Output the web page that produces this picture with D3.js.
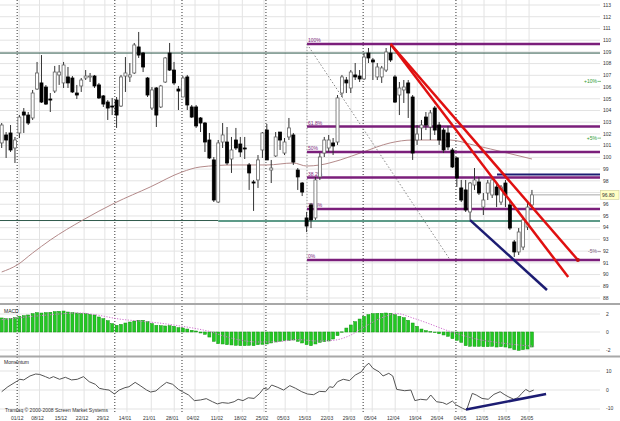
<!DOCTYPE html>
<html><head><meta charset="utf-8">
<script src="https://cdn.jsdelivr.net/npm/d3@7"></script>
<style>body{margin:0;background:#fff}svg{display:block}text{font-family:"Liberation Sans",Arial,sans-serif}</style>
</head><body><svg id="c" width="620" height="421"></svg>
<script>
// ---------- DATA ----------
const open  = [101.23,101.91,102.08,100.80,102.08,103.87,103.61,103.36,105.83,106.35,106.00,104.98,105.66,107.03,106.35,106.86,106.77,105.49,106.09,106.77,106.86,106.94,106.18,105.24,104.72,104.38,104.89,104.38,106.94,106.86,107.20,109.42,108.90,106.77,104.21,105.92,104.30,106.43,108.90,107.45,105.83,105.15,106.86,104.30,104.30,103.36,102.93,101.48,99.78,96.19,101.31,101.31,99.86,101.48,101.14,100.80,99.35,97.90,98.07,100.63,102.33,98.92,100.12,102.16,100.37,101.74,101.91,98.92,97.81,94.83,95.94,94.83,98.33,100.37,100.80,101.23,101.31,105.49,106.60,105.92,107.03,106.94,106.69,108.90,108.31,106.86,106.86,107.45,108.90,106.86,105.32,105.75,106.35,105.15,101.48,102.51,103.44,102.59,104.21,102.76,102.33,102.08,100.63,99.95,97.39,97.22,95.34,97.64,97.90,95.76,96.96,96.79,97.47,96.19,97.81,95.94,92.78,91.93,92.35,94.06,95.94];
const high  = [102.93,102.16,102.76,101.74,103.61,104.21,103.87,105.75,108.14,108.73,106.17,105.49,107.80,107.88,108.14,107.71,106.94,106.18,106.77,107.45,107.20,107.03,106.35,105.32,104.89,105.07,105.15,107.03,108.56,108.05,109.76,110.70,108.99,106.86,106.00,106.00,106.18,108.56,109.76,108.14,106.09,106.94,107.03,104.47,104.47,103.44,103.02,102.08,100.03,101.48,102.93,102.59,101.74,102.51,101.74,101.74,99.52,98.07,100.20,102.16,102.85,99.78,102.16,102.16,101.65,103.36,102.08,99.09,97.90,95.34,96.11,98.33,100.37,101.74,101.91,101.65,105.32,107.03,106.86,107.45,108.05,107.45,108.90,109.33,108.48,108.05,107.80,109.33,109.67,107.03,106.43,106.60,106.60,105.32,102.76,103.19,103.87,104.04,104.38,103.02,102.51,102.68,100.80,100.03,98.07,98.07,97.90,99.09,98.33,96.96,98.07,98.33,97.90,97.64,98.07,96.36,92.95,93.97,94.91,96.11,97.22];
const low   = [100.80,99.95,100.46,99.52,101.65,102.08,102.76,103.19,105.75,104.64,104.47,103.87,105.49,106.18,105.92,105.92,105.49,104.98,105.58,106.60,106.43,105.92,104.98,104.30,103.19,103.61,102.51,104.30,105.58,106.43,107.11,108.48,107.28,105.15,104.04,102.59,104.21,106.35,107.37,106.18,104.04,105.15,104.04,103.36,102.51,102.16,100.46,99.86,96.19,96.11,100.80,99.35,98.67,100.63,100.03,99.86,97.22,95.43,97.39,99.95,99.78,97.81,100.03,100.63,100.20,101.48,99.35,97.22,96.70,93.63,93.97,94.66,98.07,100.03,100.46,100.20,101.06,105.15,105.49,105.49,106.60,106.43,106.60,108.05,106.60,106.60,106.35,107.28,108.14,104.64,103.61,104.64,103.36,99.78,101.06,101.48,102.33,101.48,101.91,101.06,100.37,100.63,99.09,97.47,96.19,95.34,94.66,97.22,96.79,95.08,96.36,96.53,95.76,95.94,95.76,93.80,91.50,91.67,92.09,93.80,95.68];
const close = [102.76,101.48,100.63,101.48,103.44,103.61,102.93,105.49,107.20,104.72,104.55,104.89,107.28,107.28,107.88,106.35,105.58,105.32,106.60,106.94,106.94,106.09,105.07,104.55,104.21,104.30,103.61,106.86,107.20,107.03,109.59,108.73,107.71,105.32,105.75,103.61,106.09,108.48,107.45,106.35,105.66,106.77,104.47,103.44,102.68,102.93,101.31,99.95,96.36,101.23,101.91,99.52,100.63,100.80,100.46,100.72,98.67,97.81,99.78,102.08,99.78,99.09,101.74,101.48,101.31,102.51,99.60,98.33,97.04,94.14,94.66,98.07,100.03,101.48,101.48,100.97,105.07,106.86,106.35,107.28,106.86,106.69,108.56,108.48,108.14,107.71,107.63,108.99,108.31,104.72,105.92,106.00,105.49,100.37,101.99,102.76,102.76,103.79,102.33,101.48,100.63,100.89,99.18,98.24,96.36,95.51,97.81,98.07,96.96,96.36,97.81,98.07,96.79,97.47,96.79,93.97,91.93,93.63,94.66,95.76,96.80];

const maIdx = [0,3.5,7,11,18.4,25.6,33.6,40.8,44.9,52.4,60,66,69,72,76.6,81.8,87.9,93,101.5,106.7,114.4,120];
const maVal = [90.22,90.82,91.84,92.95,94.66,96.11,97.47,98.75,99.18,99.35,99.35,99.52,99.26,99.35,99.78,100.46,101.23,101.48,101.48,101.06,100.37,99.86];

const macdHist = [1.56,1.48,1.52,1.59,1.74,1.81,1.89,2.04,2.15,2.11,2.15,2.19,2.26,2.30,2.33,2.22,2.15,2.11,2.07,2.04,1.96,1.89,1.67,1.48,1.26,0.93,0.74,0.85,1.00,1.11,1.22,1.30,1.30,1.15,0.93,0.74,0.70,0.67,0.70,0.63,0.48,0.44,0.33,0.19,0.11,-0.11,-0.26,-0.56,-1.04,-1.30,-1.33,-1.41,-1.44,-1.48,-1.52,-1.52,-1.48,-1.52,-1.41,-1.37,-1.33,-1.22,-1.11,-1.04,-0.96,-0.93,-0.89,-1.04,-1.22,-1.41,-1.52,-1.33,-1.15,-1.07,-1.00,-0.78,-0.41,0.02,0.44,0.78,1.15,1.44,1.74,1.93,2.04,2.07,2.07,2.11,2.07,1.93,1.74,1.59,1.30,1.00,0.63,0.33,0.15,0.04,-0.07,-0.19,-0.33,-0.48,-0.74,-0.93,-1.15,-1.52,-1.59,-1.59,-1.59,-1.63,-1.63,-1.59,-1.67,-1.63,-1.67,-1.78,-1.96,-2.04,-1.96,-1.89,-1.67];
const sigIdx = [0,8.6,17.6,22,26.6,31,35.6,40,44.5,47.2,50,53.5,58,62.5,67,71.5,75,78.7,82.3,85.9,89.5,93,96.7,100.3,103.8,107.4,112,116.4,120.5];
const sigVal = [1.37,1.81,2.11,1.85,1.44,1.22,1.00,0.70,0.33,0.04,-0.41,-0.85,-1.11,-1.07,-0.85,-1.00,-0.93,-0.41,0.63,1.56,2.04,1.56,0.93,0.26,-0.30,-0.78,-1.15,-1.41,-1.59];

const momIdx = [0,1.4,3.5,4.1,5,6.4,7.7,8.6,9.9,10.8,11.7,13.1,14.4,15.8,17.1,18.5,19.8,21.2,22.1,23.2,24.3,25.5,26.6,27.9,28.8,30.2,31.5,32.8,33.7,34.9,36,37.3,38.7,40,40.9,42.3,43.6,45,46.3,47.7,48.8,49.9,51.3,52.6,53.5,54.6,55.8,57.1,58.4,59.3,60.3,61.1,62.5,63.8,65.2,66.5,67.9,69.2,70.6,71.9,73.3,74.2,75,76,77.3,78.7,80,81.4,82.3,83.1,84,85.4,86.3,87.6,88.5,89.4,91.2,92.6,93.5,94.8,96.2,97.1,98.4,99.8,100.7,102,102.9,104.3,105.2,106.5,107.4,108.7,110.1,111.4,112.8,113.7,114.6,115.9,116.8,117.7,118.6,119.5,120.4];
const momVal = [-0.90,1.71,4.72,5.64,5.30,7.38,8.42,8.19,7.03,6.11,7.03,5.64,6.69,5.30,5.64,7.03,4.37,2.98,0.90,0.32,-0.03,-2.11,-0.03,1.24,1.71,4.02,2.05,-0.03,-1.07,-0.49,1.71,4.02,2.98,0.32,-0.90,-2.64,-5.59,-5.24,-4.55,-6.17,-7.33,-6.63,-6.98,-6.17,-4.89,-5.59,-4.08,-4.43,-1.77,0.90,0.32,2.63,1.36,-0.03,2.29,0.90,-0.90,-2.11,-2.46,-0.73,-0.90,1.71,1.36,4.37,5.64,4.95,7.84,9.58,12.59,14.10,11.43,9.58,7.38,8.77,7.38,0.32,-0.38,-0.03,-5.59,-4.89,-5.24,-2.64,-6.17,-6.63,-7.56,-5.82,-7.90,-9.64,-10.57,-1.77,-2.64,-4.43,-4.89,-2.29,-0.90,-2.29,-3.50,-4.89,-4.08,-1.77,0.32,-0.90,-0.03];

const dateLabels = ["01/12","08/12","15/12","22/12","29/12","14/01","21/01","28/01","04/02","11/02","18/02","25/02","05/03","15/03","22/03","29/03","05/04","12/04","19/04","26/04","04/05","12/05","19/05","26/05"];
const dateIdx = [3.5,8.1,13.4,18.2,22.9,27.9,33.4,38.6,43.3,48.7,54,58.9,63.7,68.6,73.6,78.6,83.4,88.6,93.6,98.5,103.7,108.7,113.7,118.9];
const monthIdx = [3.5,25.6,40.8,59.8,81.8,102.8];

const priceTicks = d3.range(88, 114);
const fibLevels = [1, 0.618, 0.5, 0.382, 0.236, 0];
const fibLabels = ["100%", "61.8%", "50%", "38.2%", "23.6%", "0%"];
const fibHigh = 109.67, fibLow = 91.24, fibStartIdx = 69.1, fibEndIdx = 101.5;
const greenTop = 108.9, tealLevel = 94.61, tealStartIdx = 49;
const navyLevel = 98.54, navyStartIdx = 112.1;
const redStart = [88, 109.67];
const redEndA = [128.2, 89.79];
const redEndB = [130.4, 91.24];
const supportLine = [[106, 94.65], [123.4, 88.68]];
const momSupport = [[105.1, -10.26], [123.2, -2.1]];
const pctLevels = [0.10, 0.05, -0.05];
const pctLabels = ["+10%", "+5%", "-5%"];
const macdTicks = [2, 0, -2];
const momTicks = [10, 0, -10];

// ---------- SCALES ----------
const svg = d3.select("#c");
const R = 600;
const x = d3.scaleLinear().domain([0, 135.4]).range([1.7, R]);
const y = d3.scaleLinear().domain([88, 113]).range([298, 5]);
const ym = d3.scaleLinear().domain([-2, 2]).range([350, 314]);
const yo = d3.scaleLinear().domain([-10, 10]).range([409, 371]);
const N = close.length;
const last = close[N - 1];

// ---------- GRID ----------
const g = svg.append("g");
g.selectAll(".hg").data(priceTicks).join("line")
  .attr("x1", 0).attr("x2", R).attr("y1", d => y(d)).attr("y2", d => y(d))
  .attr("stroke", "#e3e3e3").attr("stroke-width", 1);
g.selectAll(".hm").data(macdTicks).join("line")
  .attr("x1", 0).attr("x2", R).attr("y1", d => ym(d)).attr("y2", d => ym(d))
  .attr("stroke", "#e3e3e3");
g.selectAll(".ho").data(momTicks).join("line")
  .attr("x1", 0).attr("x2", R).attr("y1", d => yo(d)).attr("y2", d => yo(d))
  .attr("stroke", "#e3e3e3");
g.selectAll(".vg").data(dateIdx).join("line")
  .attr("x1", d => x(d) + 2).attr("x2", d => x(d) + 2).attr("y1", 0).attr("y2", 412)
  .attr("stroke", "#e3e3e3");
g.selectAll(".mg").data(monthIdx).join("line")
  .attr("x1", d => x(d)).attr("x2", d => x(d)).attr("y1", 0).attr("y2", 413)
  .attr("stroke", "#333").attr("stroke-dasharray", "1,2");
// fib vertical dotted
g.append("line").attr("x1", x(fibStartIdx)).attr("x2", x(fibStartIdx))
  .attr("y1", y(fibHigh)).attr("y2", 302).attr("stroke", "#999").attr("stroke-dasharray", "1,2");

// panel separators
[304, 356.5].forEach(v => svg.append("line").attr("x1", 0).attr("x2", 620).attr("y1", v).attr("y2", v)
  .attr("stroke", "#a8a8a8").attr("stroke-width", 2));

// ---------- HORIZONTAL LEVELS ----------
svg.append("line").attr("x1", 0).attr("x2", R).attr("y1", y(greenTop)).attr("y2", y(greenTop))
  .attr("stroke", "#2f5a4c").attr("stroke-width", 1);
svg.append("line").attr("x1", 0).attr("x2", x(tealStartIdx)).attr("y1", y(tealLevel)).attr("y2", y(tealLevel))
  .attr("stroke", "#2f5a4c").attr("stroke-width", 1);
svg.append("line").attr("x1", x(tealStartIdx)).attr("x2", R).attr("y1", y(tealLevel) + 0.5).attr("y2", y(tealLevel) + 0.5)
  .attr("stroke", "#5d9a88").attr("stroke-width", 2);

// MA line
svg.append("path").datum(maIdx.map((d, i) => [d, maVal[i]]))
  .attr("d", d3.line().x(d => x(d[0])).y(d => y(d[1])).curve(d3.curveMonotoneX))
  .attr("fill", "none").attr("stroke", "#b48a8a").attr("stroke-width", 1);

// gray dotted fib diagonal
svg.append("line").attr("x1", x(fibStartIdx)).attr("y1", y(fibHigh)).attr("x2", x(fibEndIdx)).attr("y2", y(fibLow))
  .attr("stroke", "#888").attr("stroke-dasharray", "1.5,2").attr("stroke-width", 1);

// fib levels
const fibG = svg.append("g");
fibLevels.forEach((f, i) => {
  const v = fibLow + f * (fibHigh - fibLow);
  fibG.append("line").attr("x1", x(fibStartIdx)).attr("x2", R).attr("y1", y(v)).attr("y2", y(v))
    .attr("stroke", "#7b1f7b").attr("stroke-width", 2.5);
  fibG.append("text").attr("x", x(fibStartIdx) + 1).attr("y", y(v) - 2).text(fibLabels[i])
    .attr("font-size", 5).attr("fill", "#7b1f7b");
});
// navy horizontal
svg.append("line").attr("x1", x(navyStartIdx)).attr("x2", R).attr("y1", y(navyLevel)).attr("y2", y(navyLevel))
  .attr("stroke", "#1c1c72").attr("stroke-width", 2);

// ---------- CANDLES ----------
const cg = svg.append("g");
const idx = d3.range(N);
cg.selectAll(".w").data(idx).join("line")
  .attr("x1", i => x(i)).attr("x2", i => x(i)).attr("y1", i => y(high[i])).attr("y2", i => y(low[i]))
  .attr("stroke", "#333").attr("stroke-width", 1);
cg.selectAll(".b").data(idx).join("rect")
  .attr("x", i => x(i) - 1.5).attr("width", 3)
  .attr("y", i => y(Math.max(open[i], close[i])))
  .attr("height", i => Math.max(1, Math.abs(y(open[i]) - y(close[i]))))
  .attr("fill", i => close[i] < open[i] ? "#000" : "#fff")
  .attr("stroke", i => close[i] < open[i] ? "#000" : "#666").attr("stroke-width", 0.8);

// trend lines
const rl = d3.line().x(d => x(d[0])).y(d => y(d[1]));
svg.append("path").attr("d", rl([redStart, redEndA])).attr("stroke", "#e01010").attr("stroke-width", 2.5).attr("fill", "none");
svg.append("path").attr("d", rl([redStart, redEndB])).attr("stroke", "#e01010").attr("stroke-width", 2.5).attr("fill", "none");
svg.append("circle").attr("cx", x(redEndB[0])).attr("cy", y(redEndB[1])).attr("r", 2).attr("fill", "#c01010");
svg.append("path").attr("d", rl(supportLine)).attr("stroke", "#1c1c72").attr("stroke-width", 2.5).attr("fill", "none");

// last price line
svg.append("line").attr("x1", x(N - 1) + 2).attr("x2", R).attr("y1", y(last)).attr("y2", y(last))
  .attr("stroke", "#aaa").attr("stroke-width", 1);

// ---------- RIGHT AXIS ----------
const ax = svg.append("g").attr("font-size", 5).attr("fill", "#333");
priceTicks.filter(d => Math.abs(d - last) > 0.6).forEach(d => {
  ax.append("text").attr("x", 603).attr("y", y(d) + 1.8).text(d);
});
svg.append("rect").attr("x", 600.5).attr("y", y(last) - 4.5).attr("width", 18.5).attr("height", 9)
  .attr("fill", "#ffffc4").attr("stroke", "#cfcf9a").attr("stroke-width", 0.6);
svg.append("text").attr("x", 602).attr("y", y(last) + 1.8).text(last.toFixed(2)).attr("font-size", 5).attr("fill", "#333");
pctLevels.forEach((p, i) => {
  const v = last * (1 + p);
  svg.append("text").attr("x", 597).attr("y", y(v) + 1.8).attr("text-anchor", "end").text(pctLabels[i])
    .attr("font-size", 5).attr("fill", p > 0 ? "#2e9a2e" : "#7a5a7a");
  svg.append("line").attr("x1", 597.5).attr("x2", 601).attr("y1", y(v)).attr("y2", y(v))
    .attr("stroke", p > 0 ? "#2e9a2e" : "#7a5a7a").attr("stroke-width", 0.6);
});

// ---------- MACD ----------
const mg = svg.append("g");
mg.selectAll("rect").data(idx).join("rect")
  .attr("x", i => x(i) - 1.5).attr("width", 3)
  .attr("y", i => Math.min(ym(0), ym(macdHist[i])))
  .attr("height", i => Math.max(0.5, Math.abs(ym(macdHist[i]) - ym(0))))
  .attr("fill", "#22c822").attr("stroke", "#139313").attr("stroke-width", 0.5);
svg.append("path").datum(sigIdx.map((d, i) => [d, sigVal[i]]))
  .attr("d", d3.line().x(d => x(d[0])).y(d => ym(d[1])).curve(d3.curveMonotoneX))
  .attr("fill", "none").attr("stroke", "#d070d0").attr("stroke-width", 1).attr("stroke-dasharray", "1.2,1.5");
svg.append("text").attr("x", 4).attr("y", 313).text("MACD").attr("font-size", 5).attr("fill", "#222");
macdTicks.forEach(t => svg.append("text").attr("x", 606).attr("y", ym(t) + 1.8).text(t).attr("font-size", 5).attr("fill", "#333"));

// ---------- MOMENTUM ----------
svg.append("path").datum(momIdx.map((d, i) => [d, momVal[i]]))
  .attr("d", d3.line().x(d => x(d[0])).y(d => yo(d[1])))
  .attr("fill", "none").attr("stroke", "#555").attr("stroke-width", 1);
svg.append("path").attr("d", d3.line().x(d => x(d[0])).y(d => yo(d[1]))(momSupport))
  .attr("stroke", "#1c1c72").attr("stroke-width", 2.5).attr("fill", "none");
svg.append("text").attr("x", 4).attr("y", 364).text("Momentum").attr("font-size", 5).attr("fill", "#222");
momTicks.forEach(t => svg.append("text").attr("x", 606).attr("y", Math.min(yo(t) + 1.8, 409.5)).text(t).attr("font-size", 5).attr("fill", "#333"));

// ---------- DATE AXIS ----------
svg.selectAll(".dl").data(dateLabels).join("text")
  .attr("x", (d, i) => x(dateIdx[i])).attr("y", 420).attr("text-anchor", "middle")
  .text(d => d).attr("font-size", 5).attr("fill", "#333");
svg.append("text").attr("x", 5).attr("y", 411.5).text("Transaq \u00a9 2000-2008 Screen Market Systems")
  .attr("font-size", 5).attr("fill", "#333");
</script></body></html>
